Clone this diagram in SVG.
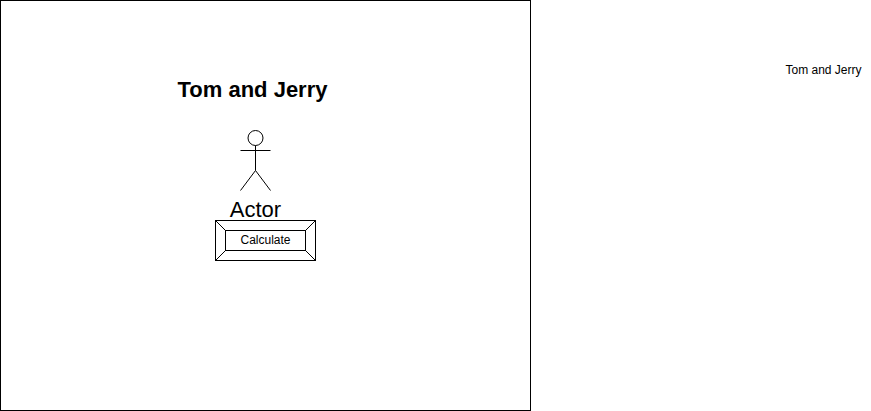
<svg xmlns="http://www.w3.org/2000/svg" width="871" height="411" viewBox="0 0 871 411">
<style>
.s{fill:none;stroke:#000;stroke-width:1}
.f{fill:#fff;stroke:#000;stroke-width:1}
text{font-family:"Liberation Sans",Arial,sans-serif;fill:#000;text-anchor:middle}
</style>
<rect width="871" height="411" fill="#fff"/>
<g id="frame"><rect class="f" x="0.5" y="0.5" width="530" height="410"/></g>
<g id="title"><text x="252.5" y="97" font-size="22" font-weight="bold">Tom and Jerry</text></g>
<g id="actor">
<circle class="f" cx="255.5" cy="138" r="7.5"/>
<path class="s" d="M255.5 145.500V170.500M255.500 150.500H240.500M255.500 150.500H270.500M255.500 170.500L240.500 190.500M255.500 170.500L270.500 190.500"/>
<text x="255.500" y="217" font-size="22">Actor</text>
</g>
<g id="calculate">
<rect class="f" x="215.500" y="220.500" width="100" height="40"/>
<rect class="s" x="225.500" y="230.500" width="80" height="20"/>
<path class="s" d="M215.500 220.500L225.500 230.500M315.500 220.500L305.500 230.500M215.500 260.500L225.500 250.500M315.500 260.500L305.500 250.500"/>
<text x="265.500" y="244" font-size="12">Calculate</text>
</g>
<g id="label"><text x="823.500" y="74" font-size="12">Tom and Jerry</text></g>
<g id="connectors"></g>
</svg>
